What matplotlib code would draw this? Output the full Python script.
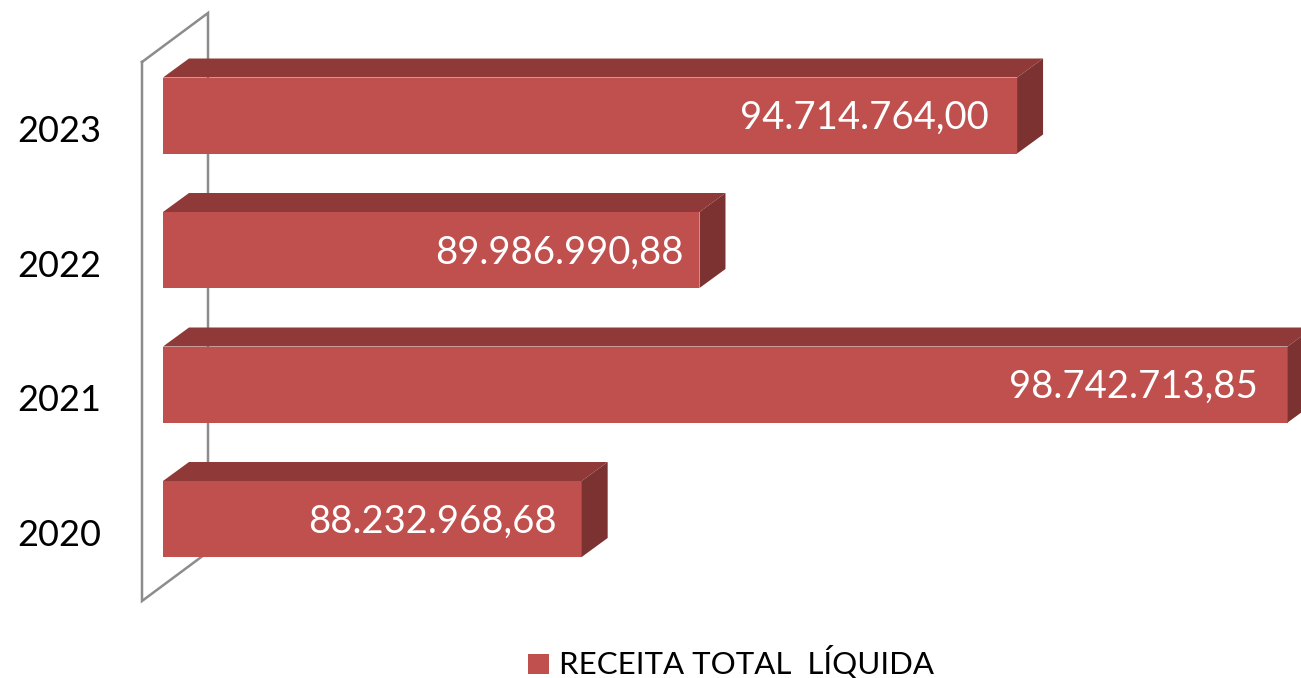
import matplotlib
matplotlib.use("Agg")
import matplotlib.pyplot as plt
from matplotlib.patches import Polygon, Rectangle

years = ["2020", "2021", "2022", "2023"]
values = [88232968.68, 98742713.85, 89986990.88, 94714764.00]
labels = ["88.232.968,68", "98.742.713,85", "89.986.990,88", "94.714.764,00"]
series_name = "RECEITA TOTAL  LÍQUIDA"
label_pad_px = [25, 30, 16, 28]

FRONT = "#C0504D"
TOP = "#8F3A38"
SIDE = "#7C3231"
WALL = "#8C8C8C"
FONT = ["Lato", "DejaVu Sans"]

W, H = 1301, 678
fig = plt.figure(figsize=(W / 100, H / 100), dpi=100)
ax = fig.add_axes([0, 0, 1, 1])

# scales: value axis and category axis
vmin = 82.0e6                      # axis minimum, at front-left of bars
px_per_val = 67.17 / 1e6
x_left_px = 163
xlim = (vmin - x_left_px / px_per_val, vmin + (W - x_left_px) / px_per_val)
ax.set_xlim(*xlim)
cat_px0, cat_step = 519.0, 134.5
ylim = ((cat_px0 - H) / cat_step, cat_px0 / cat_step)
ax.set_ylim(*ylim)
ax.axis("off")

def px2x(px):
    return xlim[0] + px / px_per_val

def px2y(py):
    return (cat_px0 - py) / cat_step

dx = 26 / px_per_val        # depth offset in value units
dy = 19 / cat_step          # depth offset in category units
bar_h = 76 / cat_step

# back wall (outline)
wall_pts = [(142, 62), (208, 13), (208, 552), (142, 601), (142, 62)]
ax.plot([px2x(p[0]) for p in wall_pts], [px2y(p[1]) for p in wall_pts],
        color=WALL, lw=1.8, zorder=1, solid_joinstyle="miter")

for i, (v, lab) in enumerate(zip(values, labels)):
    x0, x1 = vmin, v
    yb, yt = i - bar_h / 2, i + bar_h / 2
    ax.add_patch(Rectangle((x0, yb), x1 - x0, bar_h, fc=FRONT, ec="none", zorder=3))
    ax.add_patch(Polygon([(x0, yt), (x0 + dx, yt + dy), (x1 + dx, yt + dy), (x1, yt)],
                         closed=True, fc=TOP, ec="none", zorder=3))
    ax.add_patch(Polygon([(x1, yt), (x1 + dx, yt + dy), (x1 + dx, yb + dy), (x1, yb)],
                         closed=True, fc=SIDE, ec="none", zorder=3))
    ax.text(x1 - label_pad_px[i] / px_per_val, i - 0.02, lab, ha="right", va="center",
            color="white", fontsize=27.5, family=FONT, zorder=4)
    ax.text(px2x(59.5), i - 0.12, years[i], ha="center", va="center",
            color="black", fontsize=26, family=FONT, zorder=4)

# legend
ax.add_patch(Rectangle((px2x(528), px2y(674)), 21 / px_per_val, 20 / cat_step,
                       fc=FRONT, ec="none", zorder=4))
ax.text(px2x(559), px2y(662), series_name, ha="left", va="center",
        color="black", fontsize=22.5, family=FONT, zorder=4)

fig.savefig("out.png", dpi=100)
